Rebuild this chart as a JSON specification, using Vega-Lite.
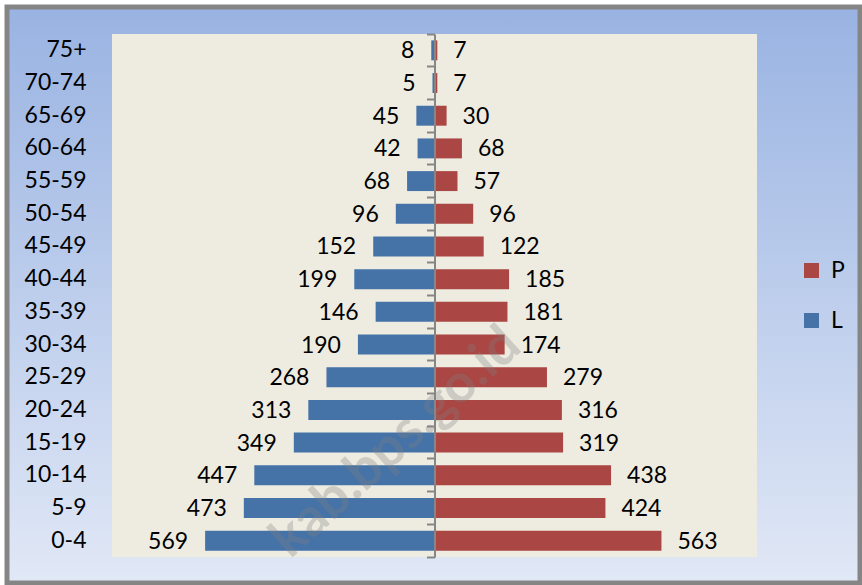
{
  "$schema": "https://vega.github.io/schema/vega-lite/v6.json",
  "width": 853,
  "height": 576,
  "autosize": {"type": "none"},
  "padding": {"left": 7, "top": 7, "right": 2, "bottom": 2},
  "background": "#ffffff",
  "config": {
    "font": "Lato",
    "view": {
      "fill": {"gradient": "linear", "x1": 0, "y1": 0, "x2": 0, "y2": 1,
        "stops": [{"offset": 0, "color": "#99B3E2"}, {"offset": 1, "color": "#E1E8F6"}]},
      "stroke": "#858585",
      "strokeWidth": 5
    },
    "axis": {"grid": false, "title": null}
  },
  "data": {
    "values": [
      {"age": "75+", "sex": "L", "pop": 8, "x": -8},
      {"age": "75+", "sex": "P", "pop": 7, "x": 7},
      {"age": "70-74", "sex": "L", "pop": 5, "x": -5},
      {"age": "70-74", "sex": "P", "pop": 7, "x": 7},
      {"age": "65-69", "sex": "L", "pop": 45, "x": -45},
      {"age": "65-69", "sex": "P", "pop": 30, "x": 30},
      {"age": "60-64", "sex": "L", "pop": 42, "x": -42},
      {"age": "60-64", "sex": "P", "pop": 68, "x": 68},
      {"age": "55-59", "sex": "L", "pop": 68, "x": -68},
      {"age": "55-59", "sex": "P", "pop": 57, "x": 57},
      {"age": "50-54", "sex": "L", "pop": 96, "x": -96},
      {"age": "50-54", "sex": "P", "pop": 96, "x": 96},
      {"age": "45-49", "sex": "L", "pop": 152, "x": -152},
      {"age": "45-49", "sex": "P", "pop": 122, "x": 122},
      {"age": "40-44", "sex": "L", "pop": 199, "x": -199},
      {"age": "40-44", "sex": "P", "pop": 185, "x": 185},
      {"age": "35-39", "sex": "L", "pop": 146, "x": -146},
      {"age": "35-39", "sex": "P", "pop": 181, "x": 181},
      {"age": "30-34", "sex": "L", "pop": 190, "x": -190},
      {"age": "30-34", "sex": "P", "pop": 174, "x": 174},
      {"age": "25-29", "sex": "L", "pop": 268, "x": -268},
      {"age": "25-29", "sex": "P", "pop": 279, "x": 279},
      {"age": "20-24", "sex": "L", "pop": 313, "x": -313},
      {"age": "20-24", "sex": "P", "pop": 316, "x": 316},
      {"age": "15-19", "sex": "L", "pop": 349, "x": -349},
      {"age": "15-19", "sex": "P", "pop": 319, "x": 319},
      {"age": "10-14", "sex": "L", "pop": 447, "x": -447},
      {"age": "10-14", "sex": "P", "pop": 438, "x": 438},
      {"age": "5-9", "sex": "L", "pop": 473, "x": -473},
      {"age": "5-9", "sex": "P", "pop": 424, "x": 424},
      {"age": "0-4", "sex": "L", "pop": 569, "x": -569},
      {"age": "0-4", "sex": "P", "pop": 563, "x": 563}
    ]
  },
  "resolve": {"scale": {"y": "independent"}, "axis": {"y": "independent"}},
  "layer": [
    {
      "data": {"values": [{"a": 0}]},
      "mark": {"type": "rect", "fill": "#EEECE1"},
      "encoding": {
        "x": {"datum": -800, "type": "quantitative",
          "scale": {"domain": [-800, 800], "range": [105, 750], "nice": false, "zero": false}, "axis": null},
        "x2": {"datum": 800},
        "y": {"datum": 0, "type": "quantitative", "scale": {"domain": [0, 1], "range": [550, 27], "nice": false}, "axis": null},
        "y2": {"datum": 1}
      }
    },
    {
      "layer": [
        {
          "mark": {"type": "bar"},
          "encoding": {
            "x": {"field": "x", "type": "quantitative"},
            "y": {"field": "age", "type": "nominal",
              "sort": ["75+", "70-74", "65-69", "60-64", "55-59", "50-54", "45-49", "40-44", "35-39", "30-34", "25-29", "20-24", "15-19", "10-14", "5-9", "0-4"],
              "scale": {"range": [27, 550], "paddingInner": 0.39, "paddingOuter": 0.195},
              "axis": {"orient": "left", "offset": -79, "domain": false, "ticks": false, "tickSize": 0, "labelPadding": 0,
                "labelFont": "Lato", "labelFontSize": 23, "labelColor": "#000000"}},
            "color": {"field": "sex", "type": "nominal",
              "scale": {"domain": ["P", "L"], "range": ["#AA4643", "#4572A7"]},
              "legend": {"orient": "none", "legendX": 793, "legendY": 252, "title": null,
                "symbolType": "square", "symbolSize": 225, "symbolStrokeWidth": 0, "symbolOpacity": 1,
                "labelFont": "Lato", "labelFontSize": 23, "labelColor": "#000000", "labelOffset": 8, "rowPadding": 26, "padding": 0}}
          }
        },
        {
          "transform": [{"filter": "datum.sex == 'L'"}],
          "mark": {"type": "text", "align": "right", "baseline": "middle", "dx": -17, "dy": 1, "fontSize": 23, "font": "Lato", "color": "#000000"},
          "encoding": {
            "x": {"field": "x", "type": "quantitative"},
            "y": {"field": "age", "type": "nominal", "sort": ["75+", "70-74", "65-69", "60-64", "55-59", "50-54", "45-49", "40-44", "35-39", "30-34", "25-29", "20-24", "15-19", "10-14", "5-9", "0-4"]},
            "text": {"field": "pop", "type": "quantitative"}
          }
        },
        {
          "transform": [{"filter": "datum.sex == 'P'"}],
          "mark": {"type": "text", "align": "left", "baseline": "middle", "dx": 16, "dy": 1, "fontSize": 23, "font": "Lato", "color": "#000000"},
          "encoding": {
            "x": {"field": "x", "type": "quantitative"},
            "y": {"field": "age", "type": "nominal", "sort": ["75+", "70-74", "65-69", "60-64", "55-59", "50-54", "45-49", "40-44", "35-39", "30-34", "25-29", "20-24", "15-19", "10-14", "5-9", "0-4"]},
            "text": {"field": "pop", "type": "quantitative"}
          }
        }
      ]
    },
    {
      "mark": {"type": "point", "opacity": 0},
      "encoding": {
        "x": {"datum": 0, "type": "quantitative"},
        "y": {"field": "age", "type": "nominal",
          "sort": ["75+", "70-74", "65-69", "60-64", "55-59", "50-54", "45-49", "40-44", "35-39", "30-34", "25-29", "20-24", "15-19", "10-14", "5-9", "0-4"],
          "scale": {"type": "band", "range": [27, 550], "paddingInner": 0, "paddingOuter": 0},
          "axis": {"orient": "left", "offset": -427.5, "labels": false, "domain": true, "domainColor": "#868686", "domainWidth": 2,
            "ticks": true, "tickColor": "#868686", "tickWidth": 2, "tickSize": 8, "bandPosition": 1, "tickExtra": true, "zindex": 1}}
      }
    },
    {
      "data": {"values": [{"t": "kab.bps.go.id", "age": "15-19"}]},
      "mark": {"type": "text", "align": "center", "baseline": "middle", "angle": 318, "fontSize": 54, "fontWeight": "bold", "font": "Lato", "color": "#808080", "opacity": 0.3},
      "encoding": {
        "x": {"datum": -95, "type": "quantitative"},
        "y": {"field": "age", "type": "nominal", "scale": {"domain": ["75+", "70-74", "65-69", "60-64", "55-59", "50-54", "45-49", "40-44", "35-39", "30-34", "25-29", "20-24", "15-19", "10-14", "5-9", "0-4"], "range": [27, 550], "paddingInner": 0.39, "paddingOuter": 0.195}, "axis": null},
        "text": {"field": "t", "type": "nominal"}
      }
    }
  ]
}
